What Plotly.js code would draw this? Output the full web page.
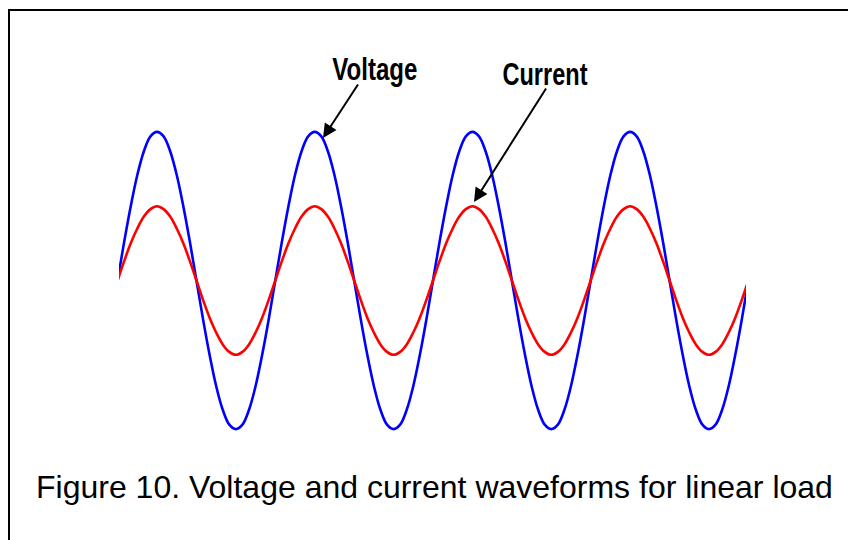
<!DOCTYPE html>
<html>
<head>
<meta charset="utf-8">
<script src="https://cdn.plot.ly/plotly-3.0.1.min.js"></script>
<style>
html,body{margin:0;padding:0;background:#fff;}
#chart{width:848px;height:540px;}
</style>
</head>
<body>
<div id="chart"></div>
<script>
// Phase angle (degrees), sampled every 15 degrees over four cycles
const phaseDeg = [0,15,30,45,60,75,90,105,120,135,150,165,180,195,210,225,240,255,270,285,300,315,330,345,
  360,375,390,405,420,435,450,465,480,495,510,525,540,555,570,585,600,615,630,645,660,675,690,705,
  720,735,750,765,780,795,810,825,840,855,870,885,900,915,930,945,960,975,990,1005,1020,1035,1050,1065,
  1080,1095,1110,1125,1140,1155,1170,1185,1200,1215,1230,1245,1260,1275,1290,1305,1320,1335,1350,1365,1380,1395,1410,1425,1440];
// Voltage (per unit of its peak)
const voltage = [0,0.26,0.5,0.71,0.87,0.97,1,0.97,0.87,0.71,0.5,0.26,0,-0.26,-0.5,-0.71,-0.87,-0.97,-1,-0.97,-0.87,-0.71,-0.5,-0.26,
  0,0.26,0.5,0.71,0.87,0.97,1,0.97,0.87,0.71,0.5,0.26,0,-0.26,-0.5,-0.71,-0.87,-0.97,-1,-0.97,-0.87,-0.71,-0.5,-0.26,
  0,0.26,0.5,0.71,0.87,0.97,1,0.97,0.87,0.71,0.5,0.26,0,-0.26,-0.5,-0.71,-0.87,-0.97,-1,-0.97,-0.87,-0.71,-0.5,-0.26,
  0,0.26,0.5,0.71,0.87,0.97,1,0.97,0.87,0.71,0.5,0.26,0,-0.26,-0.5,-0.71,-0.87,-0.97,-1,-0.97,-0.87,-0.71,-0.5,-0.26,0];
// Current (in phase with the voltage, about half its amplitude)
const current = [0,0.13,0.25,0.35,0.43,0.48,0.5,0.48,0.43,0.35,0.25,0.13,0,-0.13,-0.25,-0.35,-0.43,-0.48,-0.5,-0.48,-0.43,-0.35,-0.25,-0.13,
  0,0.13,0.25,0.35,0.43,0.48,0.5,0.48,0.43,0.35,0.25,0.13,0,-0.13,-0.25,-0.35,-0.43,-0.48,-0.5,-0.48,-0.43,-0.35,-0.25,-0.13,
  0,0.13,0.25,0.35,0.43,0.48,0.5,0.48,0.43,0.35,0.25,0.13,0,-0.13,-0.25,-0.35,-0.43,-0.48,-0.5,-0.48,-0.43,-0.35,-0.25,-0.13,
  0,0.13,0.25,0.35,0.43,0.48,0.5,0.48,0.43,0.35,0.25,0.13,0,-0.13,-0.25,-0.35,-0.43,-0.48,-0.5,-0.48,-0.43,-0.35,-0.25,-0.13,0];

const labelVoltage = "Voltage";
const labelCurrent = "Current";
const caption = "Figure 10. Voltage and current waveforms for linear load";

const W = 848, H = 540;
const M = {l:119, r:102, t:117, b:96};
const xRange = [3.2, 1434.5];
const yRange = [-1.1, 1.1];
const pw = W - M.l - M.r, ph = H - M.t - M.b;
// pixel -> paper coordinates (for placing annotations / frame)
const px2paperX = p => (p - M.l) / pw;
const px2paperY = p => (H - M.b - p) / ph;

const traces = [
  {x: phaseDeg, y: voltage, mode: 'lines', line: {color: '#0000ff', width: 2.6, shape: 'spline'}, hoverinfo: 'skip'},
  {x: phaseDeg, y: current, mode: 'lines', line: {color: '#ff0000', width: 2.6, shape: 'spline'}, hoverinfo: 'skip'}
];

const labelFont = {family: '"Liberation Sans", Arial, sans-serif', size: 31, weight: 'bold', color: '#000'};

const layout = {
  width: W, height: H,
  margin: M,
  paper_bgcolor: '#fff', plot_bgcolor: '#fff',
  showlegend: false,
  xaxis: {range: xRange, visible: false, fixedrange: true},
  yaxis: {range: yRange, visible: false, fixedrange: true},
  annotations: [
    // arrows
    {xref: 'paper', yref: 'paper', x: px2paperX(323), y: px2paperY(138), ax: 36, ay: -55,
     text: '', showarrow: true, arrowhead: 2, arrowsize: 1.4, arrowwidth: 2, arrowcolor: '#000'},
    {xref: 'paper', yref: 'paper', x: px2paperX(474), y: px2paperY(202), ax: 73, ay: -115,
     text: '', showarrow: true, arrowhead: 2, arrowsize: 1.4, arrowwidth: 2, arrowcolor: '#000'},
    // labels
    {xref: 'paper', yref: 'paper', x: px2paperX(375), y: px2paperY(70), xanchor: 'center', yanchor: 'middle',
     text: labelVoltage, showarrow: false, font: labelFont},
    {xref: 'paper', yref: 'paper', x: px2paperX(545), y: px2paperY(74), xanchor: 'center', yanchor: 'middle',
     text: labelCurrent, showarrow: false, font: labelFont},
    // caption
    {xref: 'paper', yref: 'paper', x: px2paperX(434.5), y: px2paperY(487), xanchor: 'center', yanchor: 'middle',
     text: caption, showarrow: false,
     font: {family: '"Liberation Sans", Arial, sans-serif', size: 32, color: '#000'}}
  ],
  shapes: [
    {type: 'line', xref: 'paper', yref: 'paper', x0: px2paperX(9), x1: px2paperX(860), y0: px2paperY(10), y1: px2paperY(10),
     line: {color: '#000', width: 2}},
    {type: 'line', xref: 'paper', yref: 'paper', x0: px2paperX(9), x1: px2paperX(9), y0: px2paperY(9), y1: px2paperY(560),
     line: {color: '#000', width: 2}}
  ]
};

Plotly.newPlot('chart', traces, layout, {staticPlot: true, displayModeBar: false}).then(gd => {
  // condensed look of the two labels
  const texts = gd.querySelectorAll('.annotation-text');
  texts.forEach(t => {
    const s = t.textContent;
    if (s === labelVoltage || s === labelCurrent) {
      t.setAttribute('textLength', 85);
      t.setAttribute('lengthAdjust', 'spacingAndGlyphs');
    }
  });
});
</script>
</body>
</html>
